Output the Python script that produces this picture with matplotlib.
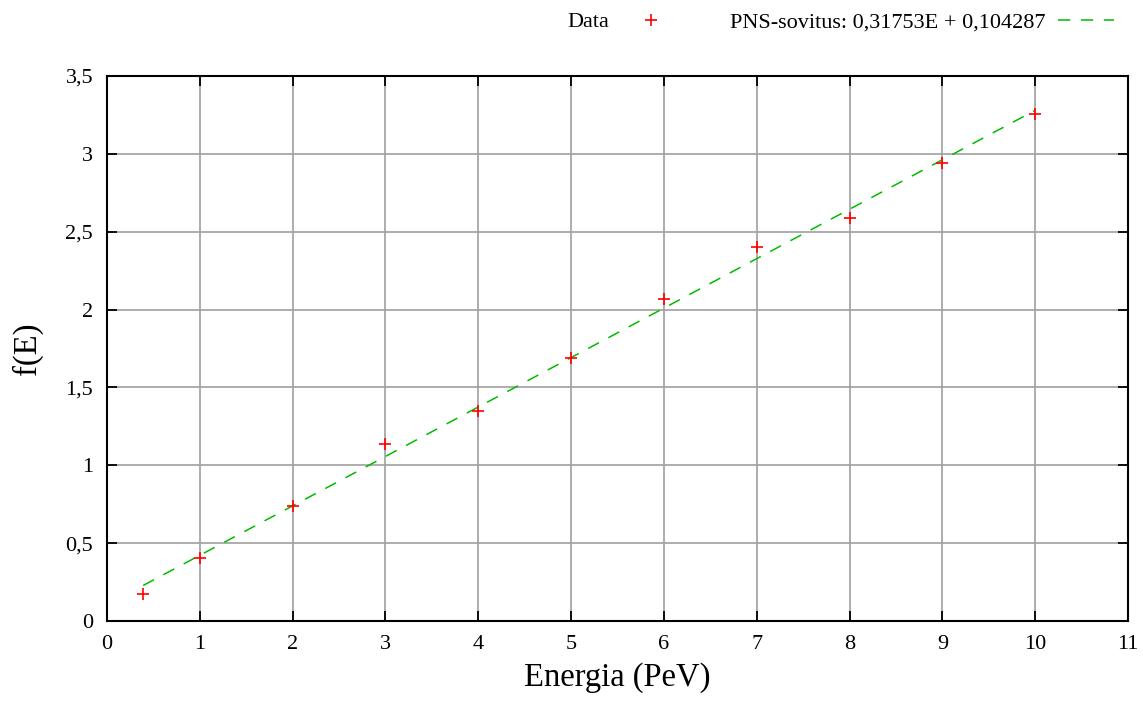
import matplotlib.pyplot as plt
import numpy as np

plt.rcParams["font.family"] = ["Liberation Serif", "DejaVu Serif"]

energia = [0.39, 1, 2, 3, 4, 5, 6, 7, 8, 9, 10]
f_e = [0.173, 0.405, 0.739, 1.134, 1.349, 1.689, 2.068, 2.405, 2.588, 2.941, 3.256]

slope = 0.31753
intercept = 0.104287

xticks = list(range(0, 12))
yticks = [0, 0.5, 1, 1.5, 2, 2.5, 3, 3.5]
ytick_labels = ["0", "0,5", "1", "1,5", "2", "2,5", "3", "3,5"]

fig = plt.figure(figsize=(11.43, 7.02), dpi=100)
ax = fig.add_axes([0.0936, 0.1154, 0.8933, 0.7763])

ax.plot(energia, f_e, "+", color="red", markersize=8, mew=1.2, label="Data", zorder=3)
xfit = np.array([energia[0], energia[-1]])
ax.plot(xfit, slope * xfit + intercept, "--", color="#00bb00", lw=1.1, dashes=(8, 7),
        label="PNS-sovitus: 0,31753E + 0,104287")

ax.set_xlim(0, 11)
ax.set_ylim(0, 3.5)
ax.set_xticks(xticks)
ax.set_xticklabels([str(t) for t in xticks])
ax.set_yticks(yticks)
ax.set_yticklabels(ytick_labels)
ax.tick_params(direction="in", length=7, width=1.3, top=True, right=True,
               labelsize=16, pad=10)
ax.grid(True, color="#a0a0a0", lw=1.2)
ax.set_axisbelow(True)
for s in ax.spines.values():
    s.set_linewidth(1.5)

ax.set_xlabel("Energia (PeV)", fontsize=23.5, labelpad=6)
ax.set_ylabel("f(E)", fontsize=23.5, labelpad=16)

ax.legend(loc="center right", bbox_to_anchor=(1114 / 1143, 1 - 22 / 702),
          bbox_transform=fig.transFigure, ncol=2, frameon=False, markerfirst=False,
          fontsize=16, handlelength=2.5, handletextpad=0.6, columnspacing=2.3,
          borderpad=0, borderaxespad=0)

fig.savefig("out.png", dpi=100)
